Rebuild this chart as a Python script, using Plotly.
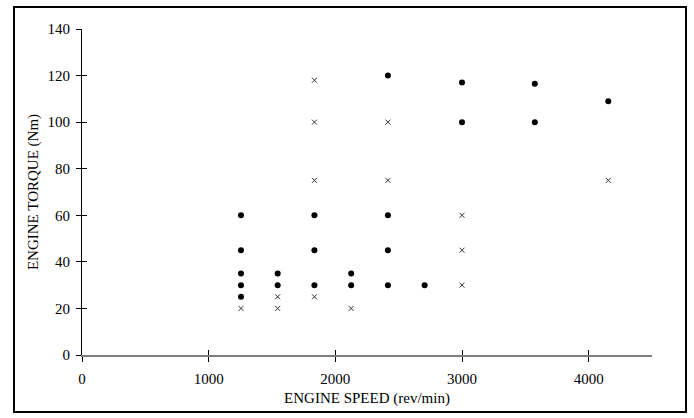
import plotly.graph_objects as go

# Filled-dot series (engine speed rev/min, torque Nm)
dot_speed = [1255, 1255, 1255, 1255, 1255,
             1545, 1545,
             1835, 1835, 1835,
             2125, 2125,
             2415, 2415, 2415, 2415,
             2705,
             3000, 3000,
             3575, 3575,
             4155]
dot_torque = [60, 45, 35, 30, 25,
              35, 30,
              60, 45, 30,
              35, 30,
              120, 60, 45, 30,
              30,
              117, 100,
              116.5, 100,
              109]

# Cross series
cross_speed = [1255,
               1545, 1545,
               1835, 1835, 1835, 1835,
               2125,
               2415, 2415,
               3000, 3000, 3000,
               4155]
cross_torque = [20,
                25, 20,
                118, 100, 75, 25,
                20,
                100, 75,
                60, 45, 30,
                75]

x_ticks = [0, 1000, 2000, 3000, 4000]
y_ticks = [0, 20, 40, 60, 80, 100, 120, 140]
x_title = "ENGINE SPEED (rev/min)"
y_title = "ENGINE TORQUE (Nm)"

FONT = "Liberation Serif, Times New Roman, serif"
FS = 15

fig = go.Figure()
fig.add_trace(go.Scatter(x=dot_speed, y=dot_torque, mode="markers",
                         marker=dict(symbol="circle", size=6, color="black",
                                     line=dict(width=0)),
                         showlegend=False, cliponaxis=False))
fig.add_trace(go.Scatter(x=cross_speed, y=cross_torque, mode="markers",
                         marker=dict(symbol="x-thin", size=5,
                                     line=dict(width=1, color="#333333")),
                         showlegend=False, cliponaxis=False))

# invisible trace to activate overlay axes for inside ticks
fig.add_trace(go.Scatter(x=[None], y=[None], xaxis="x2", yaxis="y2",
                         showlegend=False, hoverinfo="skip"))

fig.update_layout(
    width=694, height=418,
    margin=dict(l=82, r=42, t=29, b=63),
    paper_bgcolor="white", plot_bgcolor="white",
    font=dict(family=FONT, size=FS, color="black"),
    xaxis=dict(range=[0, 4500], tickvals=x_ticks, ticks="outside", ticklen=5,
               tickcolor="black", tickwidth=1,
               showline=True, linecolor="#7f7f7f", linewidth=2,
               showgrid=False, zeroline=False,
               ticklabelstandoff=4,
               title=dict(text=x_title, standoff=6,
                          font=dict(family=FONT, size=FS))),
    yaxis=dict(range=[0, 140], tickvals=y_ticks, ticks="outside", ticklen=5,
               tickcolor="black", tickwidth=1,
               showline=True, linecolor="black", linewidth=1,
               showgrid=False, zeroline=False,
               ticklabelstandoff=3,
               title=dict(text=y_title, standoff=5,
                          font=dict(family=FONT, size=FS))),
    xaxis2=dict(range=[0, 4500], tickvals=x_ticks, ticks="inside", ticklen=5,
                tickcolor="black", tickwidth=1, overlaying="x", anchor="y",
                side="bottom", showticklabels=False, showline=False,
                showgrid=False, zeroline=False),
    yaxis2=dict(range=[0, 140], tickvals=y_ticks, ticks="inside", ticklen=5,
                tickcolor="black", tickwidth=1, overlaying="y", anchor="x",
                side="left", showticklabels=False, showline=False,
                showgrid=False, zeroline=False),
    shapes=[dict(type="rect", xref="paper", yref="paper",
                 x0=(14 - 82) / 570, x1=(686 - 82) / 570,
                 y0=(355 - 412) / 326, y1=(355 - 7) / 326,
                 line=dict(color="black", width=2), layer="below")],
)

fig.write_html("out.html")
